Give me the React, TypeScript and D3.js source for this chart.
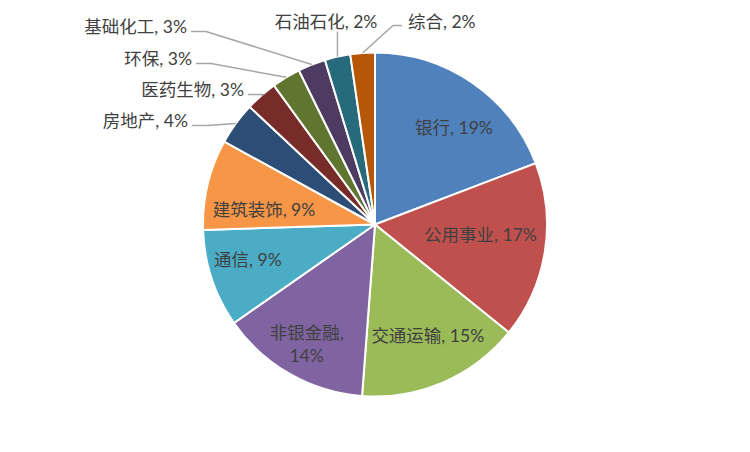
import { useEffect, useRef } from 'react';
import * as d3 from 'd3';

// 行业占比（%）
const industries = ['银行', '公用事业', '交通运输', '非银金融', '通信', '建筑装饰', '房地产', '医药生物', '环保', '基础化工', '石油石化', '综合'];
const shares = [19.2, 16.6, 15.4, 14.1, 9.2, 8.5, 4.0, 3.0, 2.7, 2.6, 2.4, 2.3];
const colors = ['#4F81BD', '#C0504D', '#9BBB59', '#8064A2', '#4BACC6', '#F79646', '#2C4D75', '#772C2A', '#5F7530', '#4D3B62', '#276A7C', '#B65708'];

// label layout (inside: radius + angle nudge in degrees; outside: text pos relative to centre)
const insideLayout: Record<string, { r: number; da: number; lines?: boolean }> = {
  '银行': { r: 125, da: 4.6 },
  '公用事业': { r: 106, da: -3.3 },
  '交通运输': { r: 123, da: -2 },
  '非银金融': { r: 138, da: 0, lines: true },
  '通信': { r: 132, da: 2.7 },
  '建筑装饰': { r: 112, da: -6 },
};
const outsideLayout: Record<string, { dx: number; dy: number; anchor: string; leader: 'left' | 'up' | 'right' }> = {
  '房地产': { dx: -187, dy: -104, anchor: 'end', leader: 'left' },
  '医药生物': { dx: -131, dy: -135, anchor: 'end', leader: 'left' },
  '环保': { dx: -183, dy: -166, anchor: 'end', leader: 'left' },
  '基础化工': { dx: -188, dy: -198, anchor: 'end', leader: 'left' },
  '石油石化': { dx: -49, dy: -203, anchor: 'middle', leader: 'up' },
  '综合': { dx: 33, dy: -203, anchor: 'start', leader: 'right' },
};

const W = 750;
const H = 452;
const cx = 375;
const cy = 224.5;
const R = 172;

export default function App() {
  const svgRef = useRef<SVGSVGElement>(null);

  useEffect(() => {
    if (!svgRef.current) return;
    const svg = d3.select(svgRef.current);
    svg.selectAll('*').remove();

    const data = industries.map((name, i) => ({ name, value: shares[i], color: colors[i] }));
    const pie = d3.pie<typeof data[0]>().sort(null).value(d => d.value);
    const arcs = pie(data);
    const arc = d3.arc<d3.PieArcDatum<typeof data[0]>>().innerRadius(0).outerRadius(R);

    const g = svg.append('g').attr('transform', `translate(${cx},${cy})`);

    g.selectAll('path.slice')
      .data(arcs)
      .enter().append('path')
      .attr('class', 'slice')
      .attr('d', arc)
      .attr('fill', d => d.data.color)
      .attr('stroke', '#fff')
      .attr('stroke-width', 2)
      .attr('stroke-linejoin', 'round');

    const font = "Lato, 'Noto Sans CJK SC', sans-serif";
    const textColor = '#404040';

    arcs.forEach(a => {
      const label = `${a.data.name}, ${Math.round(a.data.value)}%`;
      const mid = (a.startAngle + a.endAngle) / 2;
      const inside = insideLayout[a.data.name];
      if (inside) {
        const ang = mid + (inside.da * Math.PI) / 180;
        const x = Math.sin(ang) * inside.r;
        const y = -Math.cos(ang) * inside.r;
        const t = g.append('text')
          .attr('x', x).attr('y', y)
          .attr('text-anchor', 'middle')
          .attr('font-family', font)
          .attr('font-size', 17.5)
          .attr('fill', textColor);
        if (inside.lines) {
          t.append('tspan').attr('x', x).attr('dy', '-0.28em').text(`${a.data.name},`);
          t.append('tspan').attr('x', x).attr('dy', '1.3em').text(`${Math.round(a.data.value)}%`);
        } else {
          t.attr('dy', '0.35em').text(label);
        }
        return;
      }
      const out = outsideLayout[a.data.name];
      if (!out) return;
      const ex = Math.sin(mid) * R;
      const ey = -Math.cos(mid) * R;
      let pts: [number, number][];
      if (out.leader === 'left') {
        const ly = out.dy + 5;
        pts = [[out.dx + 4, ly], [out.dx + 19, ly], [ex, ey]];
      } else if (out.leader === 'up') {
        pts = [[ex, out.dy + 10], [ex, ey]];
      } else {
        const ly = out.dy + 4;
        pts = [[out.dx - 6, ly], [out.dx - 15, ly], [ex, ey]];
      }
      g.append('path')
        .attr('d', d3.line()(pts))
        .attr('fill', 'none')
        .attr('stroke', '#A6A6A6')
        .attr('stroke-width', 1.5);
      g.append('text')
        .attr('x', out.dx).attr('y', out.dy)
        .attr('dy', '0.35em')
        .attr('text-anchor', out.anchor)
        .attr('font-family', font)
        .attr('font-size', 17.5)
        .attr('fill', textColor)
        .text(label);
    });
  }, []);

  return (
    <svg ref={svgRef} width={W} height={H}
      style={{ position: 'absolute', left: 0, top: 0, background: '#fff' }} />
  );
}
